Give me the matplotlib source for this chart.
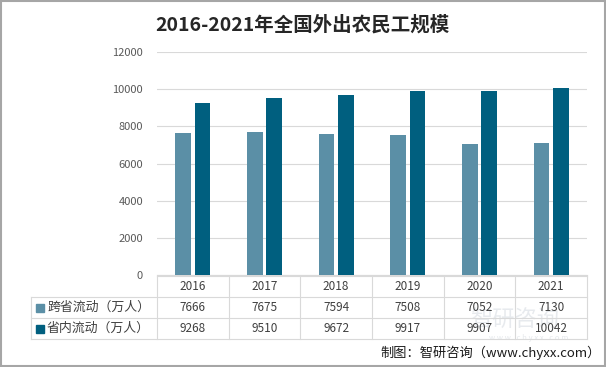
import matplotlib
matplotlib.use("Agg")
import matplotlib.pyplot as plt
from matplotlib.patches import Rectangle
from matplotlib.lines import Line2D

plt.rcParams['font.family'] = ['Noto Sans CJK SC', 'DejaVu Sans']

years = ['2016', '2017', '2018', '2019', '2020', '2021']
series_names = ['跨省流动（万人）', '省内流动（万人）']
inter_prov = [7666, 7675, 7594, 7508, 7052, 7130]
intra_prov = [9268, 9510, 9672, 9917, 9907, 10042]
colors = ['#5B8FA6', '#005F7F']
title = '2016-2021年全国外出农民工规模'
source = '制图：智研咨询（www.chyxx.com）'

W, H = 606, 367
fig = plt.figure(figsize=(W / 100, H / 100), dpi=100)

def fx(px):
    return px / W

def fy(py):
    return 1 - py / H

# plot area in pixels
L, R, T, B = 157, 587, 52, 275
ax = fig.add_axes([fx(L), fy(B), fx(R) - fx(L), fy(T) - fy(B)])
n = len(years)
x = list(range(n))
bw = 0.22
gap = 0.05
ax.bar([i - (bw + gap) / 2 for i in x], inter_prov, width=bw, color=colors[0], zorder=3)
ax.bar([i + (bw + gap) / 2 for i in x], intra_prov, width=bw, color=colors[1], zorder=3)
ax.set_xlim(-0.5, n - 0.5)
ax.set_ylim(0, 12000)
ax.set_yticks(range(0, 12001, 2000))
ax.tick_params(axis='y', length=0, labelsize=8, labelcolor='#595959', pad=10)
ax.set_xticks([])
ax.grid(axis='y', color='#D9D9D9', linewidth=0.8, zorder=0)
for s in ['top', 'right', 'left']:
    ax.spines[s].set_visible(False)
ax.spines['bottom'].set_color('#D9D9D9')

# data table
lc = '#D9D9D9'
TL = 31
rows_y = [276, 297, 318, 339]
colw = (R - L) / n
col_edges = [L + i * colw for i in range(n + 1)]

def hline(x0, x1, y):
    fig.add_artist(Line2D([fx(x0), fx(x1)], [fy(y), fy(y)], color=lc, lw=0.8))

def vline(xp, y0, y1):
    fig.add_artist(Line2D([fx(xp), fx(xp)], [fy(y0), fy(y1)], color=lc, lw=0.8))

# watermark (drawn first, faint)
fig.text(fx(470), fy(320), '智研咨询', ha='left', va='center', fontsize=16,
         color='#D5DAE0', alpha=0.55, zorder=0)
fig.text(fx(529), fy(338), 'w w w . c h y x x . c o m', ha='center', va='center',
         fontsize=5.5, color='#D5DAE0', alpha=0.6, zorder=0)

hline(L, R, rows_y[0])
for y in rows_y[1:]:
    hline(TL, R, y)
for xe in col_edges:
    vline(xe, rows_y[0], rows_y[3])
vline(TL, rows_y[1], rows_y[3])

tc = '#404040'
for i, yr in enumerate(years):
    cx = (col_edges[i] + col_edges[i + 1]) / 2
    fig.text(fx(cx), fy((rows_y[0] + rows_y[1]) / 2), yr, ha='center', va='center',
             fontsize=8.5, color=tc)
    fig.text(fx(cx), fy((rows_y[1] + rows_y[2]) / 2), str(inter_prov[i]), ha='center',
             va='center', fontsize=8.5, color=tc)
    fig.text(fx(cx), fy((rows_y[2] + rows_y[3]) / 2), str(intra_prov[i]), ha='center',
             va='center', fontsize=8.5, color=tc)

for r, (name, c) in enumerate(zip(series_names, colors)):
    cy = (rows_y[r + 1] + rows_y[r + 2]) / 2
    fig.add_artist(Rectangle((fx(36), fy(cy + 4)), fx(8), fy(0) - fy(8), color=c,
                             transform=fig.transFigure))
    fig.text(fx(47), fy(cy), name, ha='left', va='center', fontsize=9.3, color=tc)

fig.text(fx(302), fy(25), title, ha='center', va='center', fontsize=14,
         fontweight='bold', color='#262626')
fig.text(fx(601), fy(353), source, ha='right', va='center', fontsize=9.5, color='#1A1A1A')

# border
fig.add_artist(Rectangle((0.001, 0.002), 0.997, 0.995, fill=False, edgecolor='#A6A6A6',
                         lw=1.5, transform=fig.transFigure))

fig.savefig('out.png', dpi=100)
